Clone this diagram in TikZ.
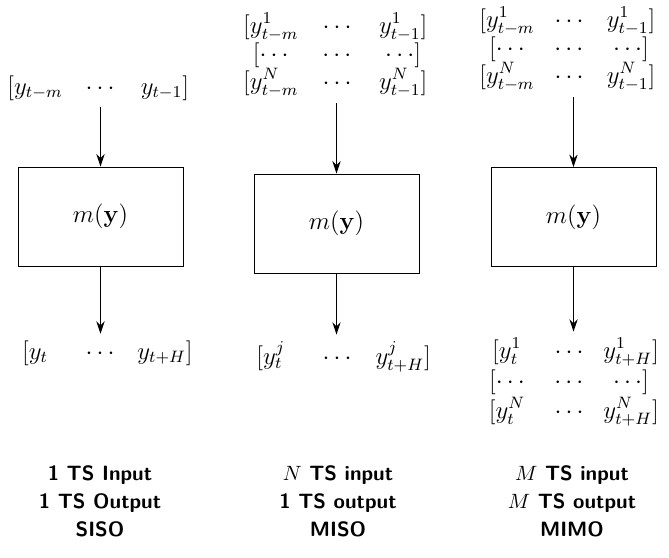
\documentclass[tikz,border=0pt]{standalone}
\usetikzlibrary{arrows.meta}

% three equally wide, centred cells on one line
\newcommand\trio[4]{%
  \makebox[#1][c]{$#2$}\makebox[#1][c]{$#3$}\makebox[#1][c]{$#4$}}

\begin{document}
\begin{tikzpicture}[x=0.4831pt,y=-0.4831pt,
  model/.style={draw,line width=0.45pt,minimum width=79.7pt,minimum height=47.8pt,
                inner sep=0pt,font=\fontsize{12}{14}\selectfont},
  seqrow/.style={anchor=base,inner sep=3pt,font=\fontsize{12}{14}\selectfont},
  flow/.style={-{Stealth[length=6pt,width=4pt]},line width=0.6pt},
  caption/.style={align=center,font=\fontsize{10}{13.5}\selectfont\sffamily\bfseries}]

\fill[white] (0,0) rectangle (669,557);
\useasboundingbox (0,0) rectangle (669,557);

% ---------------- SISO ----------------
\node[seqrow] (sisoIn) at (100,94) {\trio{31.4pt}{[y_{t-m}}{\cdots}{y_{t-1}]}};
\node[model] (sisoM) at (100.5,216.5) {$m(\mathbf{y})$};
\node[seqrow] (sisoOut) at (100,359) {\trio{31.4pt}{[y_{t}}{\cdots}{y_{t+H}]}};
\draw[flow] (sisoIn.south -| sisoM.north) -- (sisoM.north);
\draw[flow] (sisoM.south) -- (sisoOut.north -| sisoM.south);
\node[caption] (sisoCap) at (100,501) {1 TS Input\\1 TS Output\\SISO};

% ---------------- MISO ----------------
\node[seqrow] (misoInA) at (337,33) {\trio{32pt}{[y^1_{t-m}}{\cdots}{y^1_{t-1}]}};
\node[seqrow] (misoInB) at (337,61) {\trio{32pt}{[\cdots}{\cdots}{\cdots]}};
\node[seqrow] (misoInC) at (337,89) {\trio{32pt}{[y^N_{t-m}}{\cdots}{y^N_{t-1}]}};
\node[model] (misoM) at (336.5,223.5) {$m(\mathbf{y})$};
\node[seqrow] (misoOut) at (337,364) {\trio{32pt}{[y^j_{t}}{\cdots}{y^j_{t+H}]}};
\draw[flow] (misoInC.south -| misoM.north) -- (misoM.north);
\draw[flow] (misoM.south) -- (misoOut.north -| misoM.south);
\node[caption] (misoCap) at (338,501) {$N$ TS input\\1 TS output\\MISO};

% ---------------- MIMO ----------------
\node[seqrow] (mimoInA) at (569,27) {\trio{30pt}{[y^1_{t-m}}{\cdots}{y^1_{t-1}]}};
\node[seqrow] (mimoInB) at (569,55) {\trio{30pt}{[\cdots}{\cdots}{\cdots]}};
\node[seqrow] (mimoInC) at (569,83) {\trio{30pt}{[y^N_{t-m}}{\cdots}{y^N_{t-1}]}};
\node[model] (mimoM) at (573.5,217) {$m(\mathbf{y})$};
\node[seqrow] (mimoOutA) at (569,358) {\trio{30pt}{[y^1_{t}}{\cdots}{y^1_{t+H}]}};
\node[seqrow] (mimoOutB) at (569,388) {\trio{30pt}{[\cdots}{\cdots}{\cdots]}};
\node[seqrow] (mimoOutC) at (569,418) {\trio{30pt}{[y^N_{t}}{\cdots}{y^N_{t+H}]}};
\draw[flow] (mimoInC.south -| mimoM.north) -- (mimoM.north);
\draw[flow] (mimoM.south) -- (mimoOutA.north -| mimoM.south);
\node[caption] (mimoCap) at (572,501) {$M$ TS input\\$M$ TS output\\MIMO};

\end{tikzpicture}
\end{document}
